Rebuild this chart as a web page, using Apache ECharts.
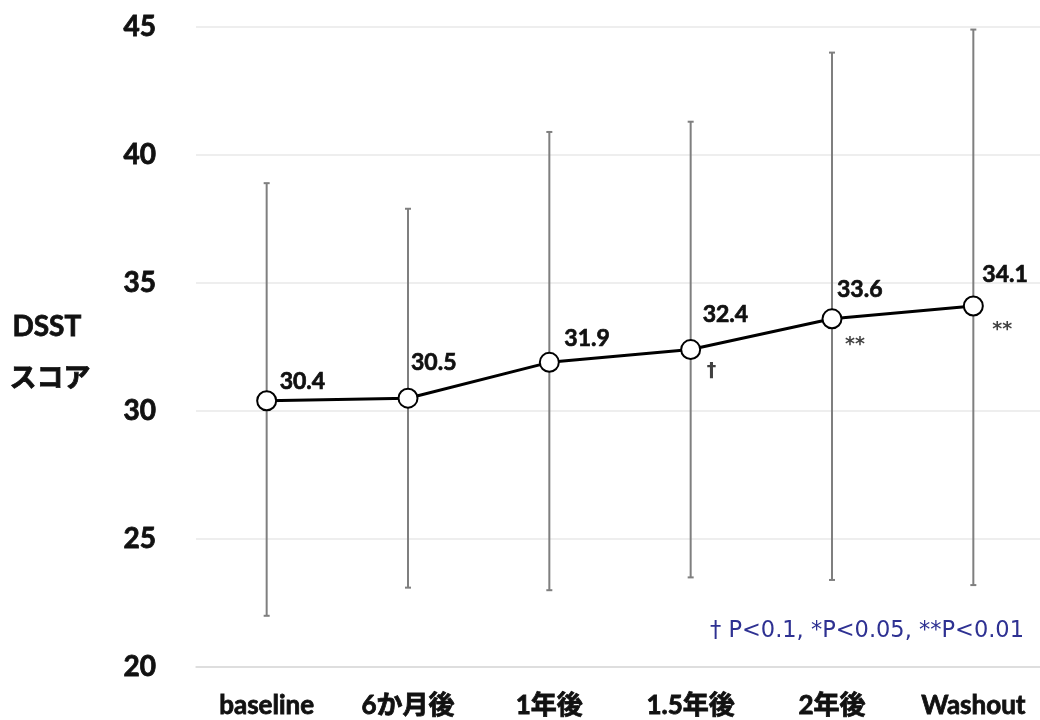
<!DOCTYPE html>
<html>
<head>
<meta charset="utf-8">
<script src="https://cdn.jsdelivr.net/npm/echarts@6/dist/echarts.min.js"></script>
<style>html,body{margin:0;padding:0;background:#fff}#c{width:1040px;height:720px}</style>
</head>
<body>
<div id="c"></div>
<script>
const categories = ['baseline', '6か月後', '1年後', '1.5年後', '2年後', 'Washout'];
const means = [30.4, 30.5, 31.9, 32.4, 33.6, 34.1];
const lows = [22.0, 23.1, 23.0, 23.5, 23.4, 23.2];
const highs = [38.9, 37.9, 40.9, 41.3, 44.0, 44.9];
const significance = ['', '', '', '†', '**', '**'];
const yTicks = [20, 25, 30, 35, 40, 45];
const footnote = '† P<0.1, *P<0.05, **P<0.01';

// layout nudges for value labels (pixels, relative to marker)
const labelNudge = [[13, -19], [3, -36], [15, -24], [12, -35], [5, -29], [9, -31]];
const sigNudge = [[0, 0], [0, 0], [0, 0], [16, 22], [13, 26], [19, 24]];

const FONT = "Lato, 'Noto Sans CJK JP', sans-serif";
const INK = '#111';
const chart = echarts.init(document.getElementById('c'));

const errData = categories.map((c, i) => [i, lows[i], highs[i]]);

chart.setOption({
  animation: false,
  grid: { left: 196, width: 848, top: 27, bottom: 53, containLabel: false, outerBoundsMode: 'none' },
  xAxis: {
    type: 'category',
    data: categories,
    boundaryGap: true,
    axisLine: { show: true, lineStyle: { color: '#d9d9d9', width: 1.5 } },
    axisTick: { show: false },
    axisLabel: { color: INK, fontFamily: FONT, fontWeight: 'bold', fontSize: 26, margin: 26,
      textBorderColor: INK, textBorderWidth: 0.8 }
  },
  yAxis: {
    type: 'value',
    min: yTicks[0],
    max: yTicks[yTicks.length - 1],
    interval: 5,
    axisLine: { show: false },
    axisTick: { show: false },
    splitLine: { lineStyle: { color: '#e8e8e8', width: 1.5 } },
    axisLabel: { color: INK, fontFamily: FONT, fontWeight: 'bold', fontSize: 28, margin: 40,
      textBorderColor: INK, textBorderWidth: 0.8 }
  },
  graphic: [
    { type: 'text', left: 12, top: 313, style: { text: 'DSST', font: "bold 28px " + FONT, fill: INK, stroke: INK, lineWidth: 0.8 } },
    { type: 'text', left: 9, top: 364, style: { text: 'スコア', font: "bold 27px " + FONT, fill: INK, stroke: INK, lineWidth: 0.8 } },
    { type: 'text', right: 16, top: 620, style: { text: footnote, font: "22.5px 'DejaVu Sans', sans-serif", fill: '#2e3192' } }
  ],
  series: [
    {
      type: 'custom',
      z: 1,
      data: errData,
      renderItem: function (params, api) {
        const x = api.value(0);
        const lo = api.coord([x, api.value(1)]);
        const hi = api.coord([x, api.value(2)]);
        const cw = 3;
        const style = { stroke: '#7f7f7f', lineWidth: 2 };
        return {
          type: 'group',
          children: [
            { type: 'line', shape: { x1: lo[0], y1: lo[1], x2: hi[0], y2: hi[1] }, style: style },
            { type: 'line', shape: { x1: lo[0] - cw, y1: lo[1], x2: lo[0] + cw, y2: lo[1] }, style: style },
            { type: 'line', shape: { x1: hi[0] - cw, y1: hi[1], x2: hi[0] + cw, y2: hi[1] }, style: style }
          ]
        };
      }
    },
    {
      type: 'line',
      z: 3,
      data: means.map((v, i) => ({
        value: v,
        label: { offset: labelNudge[i] }
      })),
      symbol: 'circle',
      symbolSize: 19,
      lineStyle: { color: '#000', width: 3 },
      itemStyle: { color: '#fff', borderColor: '#000', borderWidth: 2 },
      label: {
        show: true,
        position: 'inside',
        align: 'left',
        verticalAlign: 'middle',
        color: INK,
        fontFamily: FONT,
        fontWeight: 'bold',
        fontSize: 23,
        textBorderColor: INK,
        textBorderWidth: 0.7,
        formatter: p => p.value.toFixed(1)
      }
    },
    {
      type: 'scatter',
      z: 4,
      symbolSize: 1,
      itemStyle: { color: 'rgba(0,0,0,0)' },
      data: means.map((v, i) => ({
        value: v,
        label: { offset: sigNudge[i], formatter: significance[i] }
      })),
      label: {
        show: true,
        position: 'inside',
        align: 'left',
        verticalAlign: 'middle',
        color: INK,
        fontFamily: "'DejaVu Sans', sans-serif",
        fontWeight: 'bold',
        fontSize: 19
      }
    }
  ]
});
</script>
</body>
</html>
